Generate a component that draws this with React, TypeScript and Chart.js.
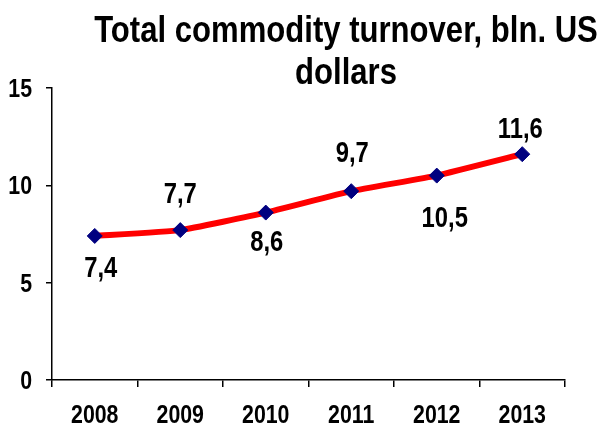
import React, { useEffect, useRef } from "react";
import { Chart, registerables } from "chart.js";

Chart.register(...registerables);

const TITLE_LINES = ["Total commodity turnover, bln. US", "dollars"];
const CATEGORIES = ["2008", "2009", "2010", "2011", "2012", "2013"];
const VALUES = [7.4, 7.7, 8.6, 9.7, 10.5, 11.6];
const VALUE_LABELS = ["7,4", "7,7", "8,6", "9,7", "10,5", "11,6"];
const Y_TICKS = [0, 5, 10, 15];

const FONT = "'Liberation Sans', Arial, sans-serif";
const NARROW = 0.82; // emulate Arial Narrow by horizontal compression

function narrowText(ctx: any, text: string, x: number, y: number, align: "left" | "center" | "right", k = NARROW) {
  const w = ctx.measureText(text).width * k;
  let left = x;
  if (align === "center") left = x - w / 2;
  else if (align === "right") left = x - w;
  ctx.save();
  ctx.translate(left, y);
  ctx.scale(k, 1);
  ctx.textAlign = "left";
  ctx.fillText(text, 0, 0);
  ctx.restore();
}

const titlePlugin = {
  id: "customTitle",
  afterDraw(chart: any) {
    const ctx = chart.ctx;
    ctx.save();
    ctx.fillStyle = "#000";
    ctx.textBaseline = "alphabetic";
    ctx.font = `bold 37px ${FONT}`;
    const center = 346;
    const baselines = [42, 84];
    TITLE_LINES.forEach((t, i) => narrowText(ctx, t, center, baselines[i], "center", 0.84));
    ctx.restore();
  },
};

const axisLabelPlugin = {
  id: "axisLabels",
  afterDraw(chart: any) {
    const ctx = chart.ctx;
    const xs = chart.scales.x;
    const ys = chart.scales.y;
    ctx.save();
    ctx.fillStyle = "#000";
    ctx.textBaseline = "alphabetic";
    ctx.font = `bold 26px ${FONT}`;
    CATEGORIES.forEach((c, i) => {
      narrowText(ctx, c, xs.getPixelForValue(i), xs.bottom - 5, "center");
    });
    Y_TICKS.forEach((v) => {
      narrowText(ctx, String(v), ys.right - 20, ys.getPixelForValue(v) + 9, "right");
    });
    ctx.restore();
  },
};

const labelPlugin = {
  id: "valueLabels",
  afterDatasetsDraw(chart: any) {
    const ctx = chart.ctx;
    const meta = chart.getDatasetMeta(0);
    const dy = [41, -27, 38, -29, 51, -16];
    const dx = [6, 0, 1, 1, 8, -2];
    ctx.save();
    ctx.fillStyle = "#000";
    ctx.textBaseline = "alphabetic";
    ctx.font = `bold 29px ${FONT}`;
    meta.data.forEach((pt: any, i: number) => {
      narrowText(ctx, VALUE_LABELS[i], pt.x + dx[i], pt.y + dy[i], "center");
    });
    ctx.restore();
  },
};

export default function App() {
  const ref = useRef<HTMLCanvasElement>(null);
  useEffect(() => {
    if (!ref.current) return;
    const chart = new Chart(ref.current, {
      type: "line",
      data: {
        labels: CATEGORIES,
        datasets: [
          {
            data: VALUES,
            borderColor: "#ff0000",
            borderWidth: 6,
            tension: 0.12,
            pointStyle: "rectRot",
            pointRadius: 7.5,
            pointHoverRadius: 7.5,
            pointBackgroundColor: "#000080",
            pointBorderColor: "#000080",
            pointBorderWidth: 1,
          },
        ],
      },
      options: {
        animation: false,
        responsive: true,
        maintainAspectRatio: false,
        layout: { padding: { top: 88, right: 35, left: 0, bottom: 0 } },
        plugins: {
          legend: { display: false },
          title: { display: false },
          tooltip: { enabled: false },
        },
        scales: {
          x: {
            offset: true,
            grid: { offset: true, drawOnChartArea: false, drawTicks: true, tickLength: 7, color: "#000", lineWidth: 1.5 },
            border: { color: "#000", width: 1.5 },
            ticks: { display: false },
            afterFit(scale: any) {
              scale.height = 48;
            },
          },
          y: {
            min: 0,
            max: 15,
            afterBuildTicks(scale: any) {
              scale.ticks = Y_TICKS.map((v) => ({ value: v }));
            },
            grid: { drawOnChartArea: false, drawTicks: true, tickLength: 6, color: "#000", lineWidth: 1.5 },
            border: { color: "#000", width: 1.5 },
            ticks: { display: false },
            afterFit(scale: any) {
              scale.width = 52;
            },
          },
        },
      },
      plugins: [titlePlugin, axisLabelPlugin, labelPlugin],
    });
    return () => chart.destroy();
  }, []);
  return (
    <div style={{ position: "absolute", left: 0, top: 0, width: 600, height: 428, background: "#fff" }}>
      <canvas ref={ref} />
    </div>
  );
}
